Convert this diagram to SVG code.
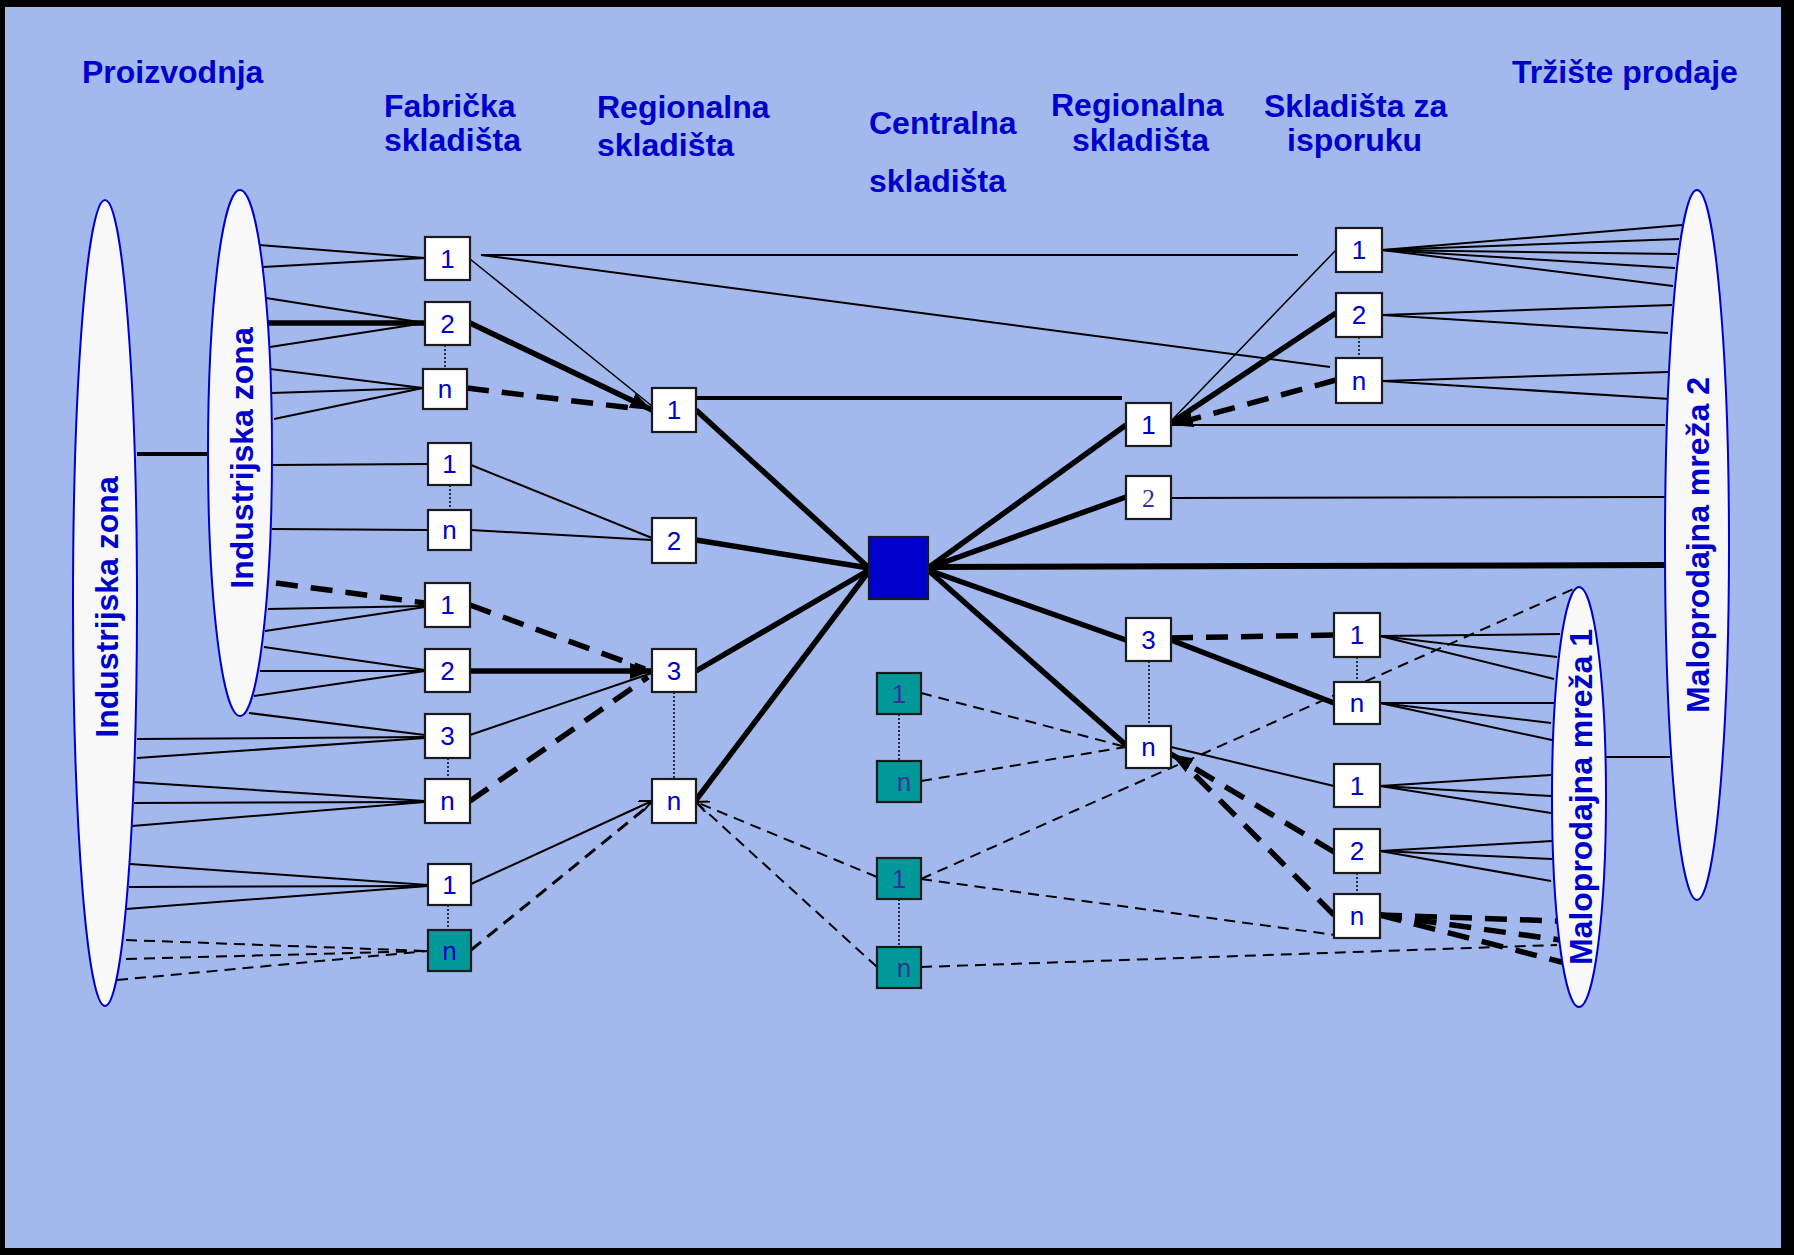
<svg xmlns="http://www.w3.org/2000/svg" width="1794" height="1255" viewBox="0 0 1794 1255">
<defs>
<style>
.hd{font-family:"Liberation Sans",Arial,sans-serif;font-weight:bold;font-size:32px;fill:#0000CC}
.el{fill:#F8F8F8;stroke:#0000CC;stroke-width:2}
.bx{fill:#FFFFFF;stroke:#1A1A1A;stroke-width:2.2}
.tb{fill:#009999;stroke:#1A1A1A;stroke-width:2.2}
.lb{font-family:"Liberation Sans",Arial,sans-serif;font-size:26px;fill:#0000CC;text-anchor:middle}
.lt{font-family:"Liberation Sans",Arial,sans-serif;font-size:26px;fill:#333399;text-anchor:middle}
.t{stroke:#000;stroke-width:2;fill:none}
.v{stroke:#000;stroke-width:1.5;fill:none}
.k{stroke:#000;stroke-width:5.5;fill:none}
.m{stroke:#000;stroke-width:4;fill:none}
.dk{stroke:#000;stroke-width:5.5;stroke-dasharray:22 13;fill:none}
.dt{stroke:#000;stroke-width:2;stroke-dasharray:11 7;fill:none}
.dm{stroke:#000;stroke-width:3;stroke-dasharray:13 8;fill:none}
.dot{stroke:#000;stroke-width:1.5;stroke-dasharray:2 2;fill:none}
</style>
<marker id="ah" markerUnits="userSpaceOnUse" markerWidth="24" markerHeight="18" refX="22" refY="9" orient="auto"><path d="M0,1 L22,9 L0,17 z" fill="#000"/></marker>
<marker id="as" markerUnits="userSpaceOnUse" markerWidth="14" markerHeight="12" refX="13" refY="6" orient="auto"><path d="M0,0 L13,6 L0,12" fill="none" stroke="#000" stroke-width="2"/></marker>
</defs>
<rect x="0" y="0" width="1794" height="1255" fill="#000"/>
<rect x="5" y="7" width="1776" height="1241" fill="#A3B8EC"/>

<g id="headers">
<text class="hd" x="82" y="83">Proizvodnja</text>
<text class="hd" x="384" y="117">Fabrička</text>
<text class="hd" x="384" y="151">skladišta</text>
<text class="hd" x="597" y="118">Regionalna</text>
<text class="hd" x="597" y="156">skladišta</text>
<text class="hd" x="869" y="134">Centralna</text>
<text class="hd" x="869" y="192">skladišta</text>
<text class="hd" x="1051" y="116">Regionalna</text>
<text class="hd" x="1072" y="151">skladišta</text>
<text class="hd" x="1264" y="117">Skladišta za</text>
<text class="hd" x="1287" y="151">isporuku</text>
<text class="hd" x="1512" y="83">Tržište prodaje</text>
</g>

<g id="connectors">
<!-- left ellipses to factory warehouses -->
<line class="m" x1="137" y1="454" x2="208" y2="454"/>
<line class="t" x1="259" y1="245" x2="425" y2="258"/>
<line class="t" x1="263" y1="267" x2="425" y2="258"/>
<line class="t" x1="266" y1="298" x2="425" y2="323"/>
<line class="k" x1="268" y1="323" x2="425" y2="323"/>
<line class="t" x1="270" y1="347" x2="425" y2="323"/>
<line class="t" x1="270" y1="369" x2="423" y2="388"/>
<line class="t" x1="272" y1="393" x2="423" y2="388"/>
<line class="t" x1="274" y1="419" x2="423" y2="388"/>
<line class="t" x1="273" y1="465" x2="428" y2="464"/>
<line class="t" x1="272" y1="529" x2="428" y2="530"/>
<line class="dk" x1="276" y1="583" x2="425" y2="603"/>
<line class="t" x1="268" y1="609" x2="425" y2="606"/>
<line class="t" x1="265" y1="631" x2="425" y2="607"/>
<line class="t" x1="264" y1="647" x2="425" y2="670"/>
<line class="t" x1="260" y1="671" x2="425" y2="671"/>
<line class="t" x1="254" y1="696" x2="425" y2="671"/>
<line class="t" x1="249" y1="713" x2="425" y2="735"/>
<line class="t" x1="137" y1="739" x2="425" y2="737"/>
<line class="t" x1="137" y1="758" x2="425" y2="738"/>
<line class="t" x1="132" y1="782" x2="425" y2="801"/>
<line class="t" x1="134" y1="803" x2="425" y2="802"/>
<line class="t" x1="132" y1="826" x2="425" y2="802"/>
<line class="t" x1="130" y1="864" x2="428" y2="885"/>
<line class="t" x1="129" y1="887" x2="428" y2="886"/>
<line class="t" x1="126" y1="909" x2="428" y2="886"/>
<line class="dt" x1="126" y1="940" x2="428" y2="951"/>
<line class="dt" x1="126" y1="959" x2="428" y2="951"/>
<line class="dt" x1="117" y1="980" x2="428" y2="951"/>
<!-- factory to regional -->
<line class="t" x1="481" y1="255" x2="1298" y2="255"/>
<line class="t" x1="481" y1="255" x2="1330" y2="367"/>
<line class="v" x1="470" y1="259" x2="652" y2="406"/>
<line class="k" x1="470" y1="323" x2="652" y2="410" marker-end="url(#ah)"/>
<line class="dk" x1="467" y1="388" x2="640" y2="409"/>
<line class="t" x1="471" y1="465" x2="652" y2="538"/>
<line class="t" x1="471" y1="530" x2="652" y2="540"/>
<line class="dk" x1="470" y1="605" x2="645" y2="669"/>
<line class="k" x1="470" y1="671" x2="652" y2="671" marker-end="url(#ah)"/>
<line class="t" x1="470" y1="735" x2="652" y2="673"/>
<line class="dk" x1="470" y1="801" x2="648" y2="677"/>
<line class="t" x1="471" y1="884" x2="652" y2="801" marker-end="url(#as)"/>
<line class="dm" x1="471" y1="950" x2="652" y2="803"/>
<!-- regional to central -->
<line class="k" x1="696" y1="410" x2="869" y2="568"/>
<line class="k" x1="696" y1="540" x2="869" y2="568"/>
<line class="k" x1="696" y1="671" x2="869" y2="570"/>
<line class="k" x1="696" y1="800" x2="869" y2="571"/>
<line class="m" x1="696" y1="398" x2="1122" y2="398"/>
<line class="dt" x1="877" y1="877" x2="696" y2="802" marker-end="url(#as)"/>
<line class="dt" x1="877" y1="967" x2="697" y2="803"/>
<!-- central to right regional -->
<line class="k" x1="928" y1="568" x2="1126" y2="425"/>
<line class="k" x1="928" y1="568" x2="1126" y2="497"/>
<line class="k" x1="928" y1="567" x2="1665" y2="565" style="stroke-width:6"/>
<line class="k" x1="928" y1="570" x2="1126" y2="640"/>
<line class="k" x1="928" y1="570" x2="1126" y2="745"/>
<line class="dt" x1="921" y1="693" x2="1126" y2="747"/>
<line class="dt" x1="921" y1="781" x2="1126" y2="747"/>
<line class="dt" x1="921" y1="879" x2="1350" y2="937"/>
<line class="dt" x1="921" y1="879" x2="1578" y2="587"/>
<line class="dt" x1="921" y1="967" x2="1557" y2="945"/>
<!-- right regional to delivery -->
<line class="v" x1="1171" y1="421" x2="1336" y2="250"/>
<line class="k" x1="1171" y1="423" x2="1336" y2="313"/>
<line class="dk" x1="1336" y1="380" x2="1171" y2="425" marker-end="url(#ah)"/>
<line class="t" x1="1171" y1="425" x2="1665" y2="425"/>
<line class="t" x1="1171" y1="498" x2="1665" y2="497"/>
<line class="dk" x1="1171" y1="638" x2="1334" y2="635"/>
<line class="k" x1="1171" y1="640" x2="1334" y2="703"/>
<line class="t" x1="1171" y1="747" x2="1334" y2="786"/>
<line class="dk" x1="1334" y1="852" x2="1171" y2="754" marker-end="url(#ah)"/>
<line class="dk" x1="1334" y1="915" x2="1180" y2="760"/>
<!-- delivery to retail networks -->
<line class="t" x1="1382" y1="250" x2="1682" y2="225"/>
<line class="t" x1="1382" y1="250" x2="1679" y2="239"/>
<line class="t" x1="1382" y1="250" x2="1677" y2="254"/>
<line class="t" x1="1382" y1="250" x2="1675" y2="268"/>
<line class="t" x1="1382" y1="250" x2="1673" y2="286"/>
<line class="t" x1="1382" y1="315" x2="1672" y2="305"/>
<line class="t" x1="1382" y1="315" x2="1668" y2="333"/>
<line class="t" x1="1382" y1="381" x2="1668" y2="372"/>
<line class="t" x1="1382" y1="381" x2="1670" y2="399"/>
<line class="t" x1="1380" y1="636" x2="1560" y2="634"/>
<line class="t" x1="1380" y1="636" x2="1557" y2="657"/>
<line class="t" x1="1380" y1="636" x2="1554" y2="679"/>
<line class="t" x1="1380" y1="703" x2="1554" y2="703"/>
<line class="t" x1="1380" y1="703" x2="1551" y2="723"/>
<line class="t" x1="1380" y1="703" x2="1552" y2="740"/>
<line class="t" x1="1605" y1="757" x2="1670" y2="757"/>
<line class="t" x1="1380" y1="786" x2="1551" y2="775"/>
<line class="t" x1="1380" y1="786" x2="1551" y2="796"/>
<line class="t" x1="1380" y1="786" x2="1551" y2="813"/>
<line class="t" x1="1380" y1="851" x2="1552" y2="841"/>
<line class="t" x1="1380" y1="851" x2="1552" y2="859"/>
<line class="t" x1="1380" y1="851" x2="1551" y2="881"/>
<line class="dk" x1="1380" y1="915" x2="1558" y2="921"/>
<line class="dk" x1="1380" y1="915" x2="1561" y2="940"/>
<line class="dk" x1="1380" y1="915" x2="1565" y2="963"/>
<!-- dotted ellipsis links -->
<line class="dot" x1="445" y1="345" x2="445" y2="369"/>
<line class="dot" x1="450" y1="485" x2="450" y2="510"/>
<line class="dot" x1="448" y1="758" x2="448" y2="779"/>
<line class="dot" x1="448" y1="905" x2="448" y2="930"/>
<line class="dot" x1="674" y1="692" x2="674" y2="779"/>
<line class="dot" x1="899" y1="714" x2="899" y2="761"/>
<line class="dot" x1="899" y1="899" x2="899" y2="947"/>
<line class="dot" x1="1149" y1="661" x2="1149" y2="726"/>
<line class="dot" x1="1359" y1="337" x2="1359" y2="358"/>
<line class="dot" x1="1357" y1="657" x2="1357" y2="682"/>
<line class="dot" x1="1357" y1="873" x2="1357" y2="894"/>
</g>

<g id="zone-big">
<ellipse class="el" cx="105" cy="603" rx="32" ry="403"/>
<text class="hd" text-anchor="middle" transform="translate(118,607) rotate(-90)">Industrijska zona</text>
</g>
<g id="zone-inner">
<ellipse class="el" cx="240" cy="453" rx="32" ry="263"/>
<text class="hd" text-anchor="middle" transform="translate(253,458) rotate(-90)">Industrijska zona</text>
</g>
<g id="retail-2">
<ellipse class="el" cx="1697" cy="545" rx="32" ry="355"/>
<text class="hd" text-anchor="middle" transform="translate(1709,545) rotate(-90)">Maloprodajna mreža 2</text>
</g>
<g id="retail-1">
<ellipse class="el" cx="1579" cy="797" rx="27" ry="210"/>
<text class="hd" text-anchor="middle" transform="translate(1592,797) rotate(-90)">Maloprodajna mreža 1</text>
</g>

<g id="f1"><rect class="bx" x="425" y="237" width="45" height="43"/><text class="lb" x="447.5" y="268">1</text></g>
<g id="f2"><rect class="bx" x="425" y="302" width="45" height="43"/><text class="lb" x="447.5" y="333">2</text></g>
<g id="fn"><rect class="bx" x="423" y="369" width="44" height="40"/><text class="lb" x="445" y="398">n</text></g>
<g id="g1"><rect class="bx" x="428" y="443" width="43" height="42"/><text class="lb" x="449.5" y="473">1</text></g>
<g id="gn"><rect class="bx" x="428" y="510" width="43" height="40"/><text class="lb" x="449.5" y="539">n</text></g>
<g id="h1"><rect class="bx" x="425" y="583" width="45" height="44"/><text class="lb" x="447.5" y="614">1</text></g>
<g id="h2"><rect class="bx" x="425" y="649" width="45" height="43"/><text class="lb" x="447.5" y="680">2</text></g>
<g id="h3"><rect class="bx" x="425" y="714" width="45" height="44"/><text class="lb" x="447.5" y="745">3</text></g>
<g id="hn"><rect class="bx" x="425" y="779" width="45" height="44"/><text class="lb" x="447.5" y="810">n</text></g>
<g id="i1"><rect class="bx" x="428" y="864" width="43" height="41"/><text class="lb" x="449.5" y="894">1</text></g>
<g id="in"><rect class="tb" x="428" y="930" width="43" height="41"/><text class="lb" x="449.5" y="960">n</text></g>

<g id="r1"><rect class="bx" x="652" y="388" width="44" height="44"/><text class="lb" x="674" y="419">1</text></g>
<g id="r2"><rect class="bx" x="652" y="518" width="44" height="45"/><text class="lb" x="674" y="550">2</text></g>
<g id="r3"><rect class="bx" x="652" y="649" width="44" height="43"/><text class="lb" x="674" y="680">3</text></g>
<g id="rn"><rect class="bx" x="652" y="779" width="44" height="44"/><text class="lb" x="674" y="810">n</text></g>

<g id="central"><rect x="869" y="537" width="59" height="62" fill="#0000CC" stroke="#1A1A1A" stroke-width="2.2"/></g>
<g id="c1"><rect class="tb" x="877" y="673" width="44" height="41"/><text class="lt" x="899" y="703">1</text></g>
<g id="cn"><rect class="tb" x="877" y="761" width="44" height="41"/><text class="lt" x="904" y="791">n</text></g>
<g id="d1"><rect class="tb" x="877" y="858" width="44" height="41"/><text class="lt" x="899" y="888">1</text></g>
<g id="dn"><rect class="tb" x="877" y="947" width="44" height="41"/><text class="lt" x="904" y="977">n</text></g>

<g id="s1"><rect class="bx" x="1126" y="403" width="45" height="43"/><text class="lb" x="1148.5" y="434">1</text></g>
<g id="s2"><rect class="bx" x="1126" y="476" width="45" height="43"/><text class="lt" x="1148.5" y="507" style="font-family:'Liberation Serif','Times New Roman',serif">2</text></g>
<g id="s3"><rect class="bx" x="1126" y="618" width="45" height="43"/><text class="lb" x="1148.5" y="649">3</text></g>
<g id="sn"><rect class="bx" x="1126" y="726" width="45" height="42"/><text class="lb" x="1148.5" y="756">n</text></g>

<g id="t1"><rect class="bx" x="1336" y="228" width="46" height="44"/><text class="lb" x="1359" y="259">1</text></g>
<g id="t2"><rect class="bx" x="1336" y="293" width="46" height="44"/><text class="lb" x="1359" y="324">2</text></g>
<g id="tn"><rect class="bx" x="1336" y="358" width="46" height="45"/><text class="lb" x="1359" y="390">n</text></g>
<g id="u1"><rect class="bx" x="1334" y="613" width="46" height="44"/><text class="lb" x="1357" y="644">1</text></g>
<g id="un"><rect class="bx" x="1334" y="682" width="46" height="42"/><text class="lb" x="1357" y="712">n</text></g>
<g id="v1"><rect class="bx" x="1334" y="764" width="46" height="43"/><text class="lb" x="1357" y="795">1</text></g>
<g id="v2"><rect class="bx" x="1334" y="829" width="46" height="44"/><text class="lb" x="1357" y="860">2</text></g>
<g id="vn"><rect class="bx" x="1334" y="894" width="46" height="44"/><text class="lb" x="1357" y="925">n</text></g>
</svg>
